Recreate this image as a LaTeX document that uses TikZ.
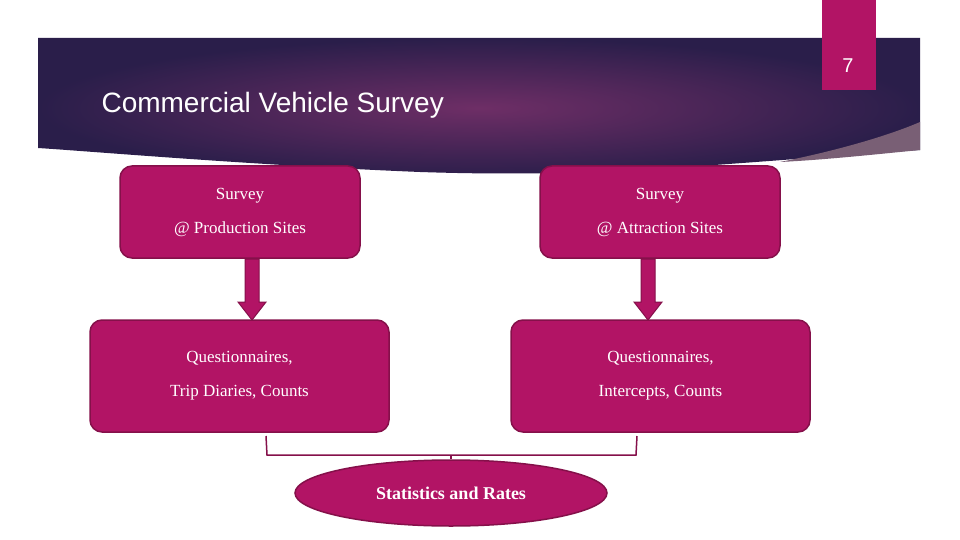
\documentclass[tikz,border=0pt]{standalone}
\usepackage{fontspec}
\setmainfont{Liberation Serif}
\newfontfamily\hdfont{Liberation Sans}
\usetikzlibrary{shapes.geometric,arrows.meta}
\definecolor{mag}{HTML}{B21465}
\definecolor{magd}{HTML}{85104A}
\definecolor{bandA}{HTML}{2A1E4A}
\definecolor{bandB}{HTML}{6E2E66}
\tikzset{
 box/.style={draw=magd,line width=1.5pt,fill=mag,rounded corners=12pt,text=white,align=center,font=\fontsize{17}{34}\selectfont},
 blk/.style={draw=magd,line width=1pt,fill=mag},
 brk/.style={draw=magd,line width=1.5pt}
}
\begin{document}
\begin{tikzpicture}[x=1pt,y=-1pt]
\useasboundingbox (0,0) rectangle (960,540);
\fill[white] (0,0) rectangle (960,540);
% band
\shade[inner color=bandB,outer color=bandA] (38,38) -- (920,38) -- (920,150) .. controls (700,165) and (600,178) .. (420,172) .. controls (250,165) and (100,152) .. (38,148) -- cycle;
\fill[gray!60!bandB] (920,122) -- (920,150) .. controls (860,156) and (820,160) .. (780,162) .. controls (840,150) and (890,135) .. (920,122) -- cycle;
\node[fill=mag,minimum width=54pt,minimum height=90pt,anchor=north west,inner sep=0pt] (pg) at (822,0) {};
\node[text=white,font=\hdfont\fontsize{20}{24}\selectfont] (pgn) at (848,66) {7};
\node[text=white,anchor=west,font=\hdfont\fontsize{28}{32}\selectfont] (title) at (98,105) {Commercial Vehicle Survey};
% boxes
\node[box,minimum width=240pt,minimum height=92pt] (tl) at (240,212) {Survey\\@ Production Sites};
\node[box,minimum width=240pt,minimum height=92pt] (tr) at (660,212) {Survey\\@ Attraction Sites};
\node[box,minimum width=299pt,minimum height=112pt] (bl) at (239.5,376) {Questionnaires,\\Trip Diaries, Counts};
\node[box,minimum width=299pt,minimum height=112pt] (br) at (660.5,376) {Questionnaires,\\Intercepts, Counts};
% block arrows
\foreach \x/\a/\b in {252/tl/bl,648/tr/br}{
 \draw[blk] (\x-7,259) -- (\x+7,259) -- (\x+7,302) -- (\x+14,302) -- (\x,320) -- (\x-14,302) -- (\x-7,302) -- cycle;
}
% ellipse
\node[ellipse,draw=magd,line width=1.5pt,fill=mag,minimum width=312pt,minimum height=66pt,text=white,font=\bfseries\fontsize{18}{20}\selectfont] (st) at (451,493) {Statistics and Rates};
% bracket
\coordinate (b1) at (266,436);
\coordinate (b2) at (637,436);
\draw[brk] (b1) -- (267,455) -- (636,455) -- (b2);
\draw[brk] (451,455) -- (st.north);
\end{tikzpicture}
\end{document}
